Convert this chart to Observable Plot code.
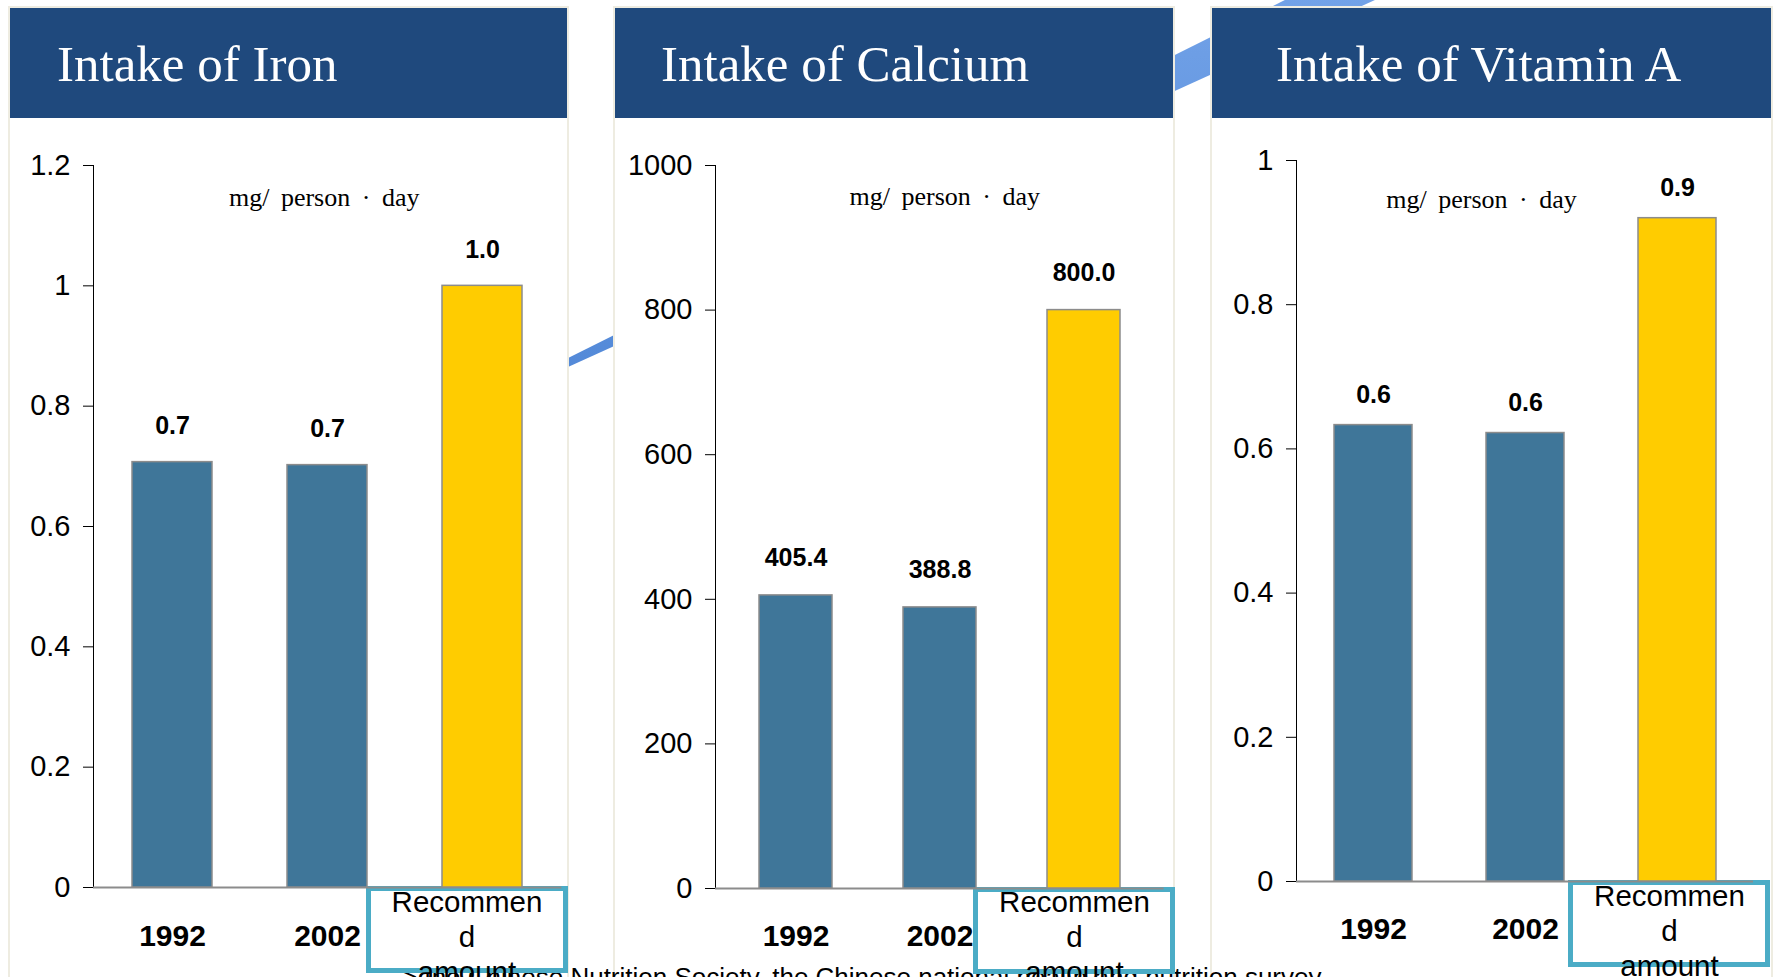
<!DOCTYPE html>
<html><head><meta charset="utf-8">
<script src="https://cdn.jsdelivr.net/npm/d3@7"></script>
<script src="https://cdn.jsdelivr.net/npm/@observablehq/plot@0.6"></script>
<style>
body{margin:0;background:#fff;}
#wrap{position:relative;width:1775px;height:977px;overflow:hidden;background:#fff;font-family:"Liberation Sans",Arial,sans-serif;}
#deco{position:absolute;left:0;top:0;z-index:0}
.panel{position:absolute;top:6px;height:1000px;border:2px solid #EEECE1;background:#fff;box-sizing:border-box;z-index:1}
.header{position:absolute;left:0;right:0;top:0;height:110px;background:#1F497D;}
.title{position:absolute;top:31px;color:#fff;font-family:"Liberation Serif","Times New Roman",serif;font-size:51px;line-height:51px;white-space:nowrap}
.caption{position:absolute;left:402px;top:964px;font-size:26px;line-height:26px;color:#000;white-space:nowrap;z-index:2}
.rbox{position:absolute;border:5px solid #4BACC6;background:#fff;box-sizing:border-box;z-index:3}
.plotwrap{position:absolute;top:120px;z-index:4}
.plotwrap svg{overflow:visible}
.unit{word-spacing:5px}
</style>
</head><body>
<div id="wrap">
<svg id="deco" width="1775" height="977">
  <defs><linearGradient id="g" x1="0" y1="0" x2="0" y2="1"><stop offset="0" stop-color="#77A6EA"/><stop offset="1" stop-color="#4F86D6"/></linearGradient></defs>
  <polygon points="450,417 1420,-67.5 1420,-20.5 450,420.7" fill="url(#g)"/>
</svg>
</div>
<script>
// ---- data ----
const categories = ["1992", "2002", "Recommend amount"];
const ironValues = [0.707, 0.702, 1.0];
const calciumValues = [405.4, 388.8, 800.0];
const vitaminAValues = [0.633, 0.622, 0.92];
const titles = ["Intake of Iron", "Intake of Calcium", "Intake of Vitamin A"];
const unitLabel = "mg/ person · day";
const recommendLabel = "Recommen\nd\namount";
const ironTicks = [0, 0.2, 0.4, 0.6, 0.8, 1, 1.2];
const calciumTicks = [0, 200, 400, 600, 800, 1000];
const vitaminATicks = [0, 0.2, 0.4, 0.6, 0.8, 1];
const captionText = "> the Chinese Nutrition Society, the Chinese national health and nutrition survey";

const barBlue = "#3F7699", barYellow = "#FFCC00";
const sans = "'Liberation Sans',Arial,sans-serif";
const serif = "'Liberation Serif','Times New Roman',serif";

const wrap = document.getElementById("wrap");

const charts = [
  {values: ironValues, ticks: ironTicks, domain: [0, 1.2], panelLeft: 8, panelWidth: 561, titleLeft: 47,
   left: 9, width: 560, mL: 84, mR: 7.6, mT: 45, mB: 90, pi: 0.483, po: 0.246,
   valDy: -36, unitDx: -3.5, unitDy: 32, catDy: 49, recDy: 48, boxDx: -15.5},
  {values: calciumValues, ticks: calciumTicks, domain: [0, 1000], panelLeft: 613, panelWidth: 562, titleLeft: 46,
   left: 614, width: 560, mL: 101, mR: 10.4, mT: 45, mB: 89, pi: 0.495, po: 0.3,
   valDy: -37, unitDx: 5, unitDy: 31, catDy: 48, recDy: 47, boxDx: -9.5},
  {values: vitaminAValues, ticks: vitaminATicks, domain: [0, 1], panelLeft: 1210, panelWidth: 563, titleLeft: 64,
   left: 1211, width: 561, mL: 85, mR: 19, mT: 40, mB: 96, pi: 0.49, po: 0.245,
   valDy: -30, unitDx: -43.5, unitDy: 39, catDy: 48, recDy: 48, boxDx: -8}
];

const cap = document.createElement("div");
cap.className = "caption";
cap.textContent = captionText;
wrap.appendChild(cap);

charts.forEach((c, i) => {
  const panel = document.createElement("div");
  panel.className = "panel";
  panel.style.left = c.panelLeft + "px";
  panel.style.width = c.panelWidth + "px";
  const header = document.createElement("div");
  header.className = "header";
  const t = document.createElement("div");
  t.className = "title";
  t.style.left = c.titleLeft + "px";
  t.textContent = titles[i];
  header.appendChild(t);
  panel.appendChild(header);
  wrap.appendChild(panel);

  const data = categories.map((cat, j) => ({cat, value: c.values[j]}));
  const H = 857;
  const plot = Plot.plot({
    width: c.width, height: H,
    marginLeft: c.mL, marginRight: c.mR, marginTop: c.mT, marginBottom: c.mB,
    style: {fontFamily: sans, fontSize: "29px", color: "#000", background: "transparent", overflow: "visible"},
    x: {domain: categories, paddingInner: c.pi, paddingOuter: c.po, axis: null},
    y: {domain: c.domain, ticks: c.ticks, tickSize: 10, tickPadding: 13, line: true, label: null, tickFormat: d3.format("~g")},
    color: {domain: categories, range: [barBlue, barBlue, barYellow]},
    marks: [
      Plot.ruleY([0], {stroke: "#8C8C8C", strokeWidth: 2}),
      Plot.barY(data, {x: "cat", y: "value", fill: "cat", stroke: "#8C8C8C", strokeWidth: 1.5}),
      Plot.text(data, {x: "cat", y: "value", text: d => d3.format(".1f")(d.value), dy: c.valDy, lineAnchor: "middle", fontWeight: "bold", fontSize: 25, fontFamily: sans}),
      Plot.text(categories.slice(0, 2), {x: d => d, text: d => d, frameAnchor: "bottom", lineAnchor: "middle", dy: c.catDy, fontWeight: "bold", fontSize: 30, fontFamily: sans}),
      Plot.text([categories[2]], {x: d => d, text: () => recommendLabel, frameAnchor: "bottom", lineAnchor: "middle", dy: c.recDy, dx: c.boxDx, fontSize: 29.5, lineHeight: 35 / 29.5, fontFamily: sans}),
      Plot.text([unitLabel], {text: d => d, frameAnchor: "top", lineAnchor: "middle", dx: c.unitDx, dy: c.unitDy, fontSize: 26, fontFamily: serif, className: "unit"})
    ]
  });
  const pw = document.createElement("div");
  pw.className = "plotwrap";
  pw.style.left = c.left + "px";
  pw.appendChild(plot);
  wrap.appendChild(pw);

  const xs = plot.scale("x"), ys = plot.scale("y");
  const center = c.left + xs.apply(categories[2]) + xs.bandwidth / 2 + c.boxDx;
  const base = 120 + ys.apply(0);
  const box = document.createElement("div");
  box.className = "rbox";
  box.style.left = (center - 101) + "px";
  box.style.width = "202px";
  box.style.top = (base - 1) + "px";
  box.style.height = "87px";
  wrap.appendChild(box);
});
</script>
</body></html>
